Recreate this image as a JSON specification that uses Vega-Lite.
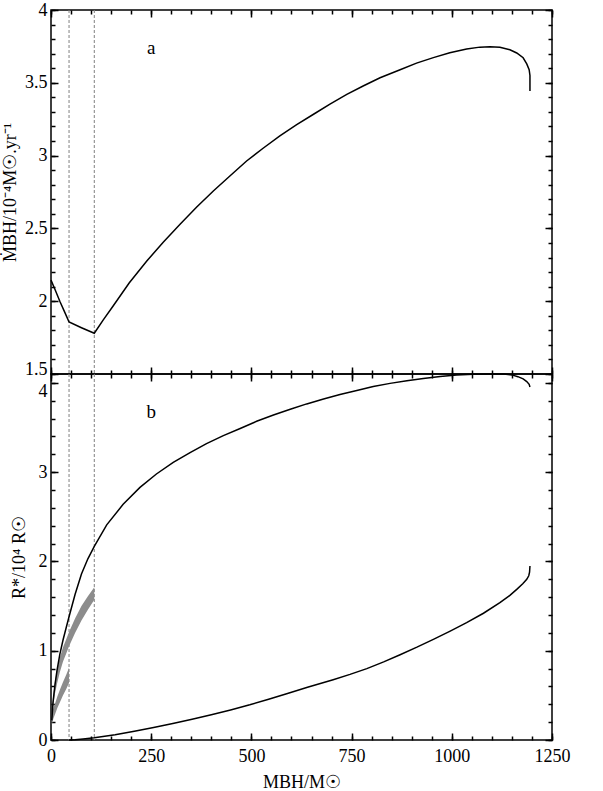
{
  "$schema": "https://vega.github.io/schema/vega-lite/v6.json",
  "padding": {"left": 0, "top": 0, "right": 10, "bottom": 5},
  "spacing": 0,
  "bounds": "flush",
  "config": {
    "font": "Liberation Serif",
    "view": {"stroke": "black", "strokeWidth": 1.5},
    "axis": {
      "labelFont": "Liberation Serif", "titleFont": "Liberation Serif",
      "labelFontSize": 18, "titleFontSize": 18, "titleFontWeight": "normal",
      "domain": false, "tickColor": "black", "tickWidth": 1.5,
      "labelColor": "black", "titleColor": "black", "grid": false,
      "labelFlush": false, "labelOverlap": false, "labelBound": false
    }
  },
  "datasets": {
    "vlines": [{"M": 45}, {"M": 108}],
    "mdot": [
      {"M":0,"v":2.145},{"M":10,"v":2.08},{"M":22,"v":2.0},{"M":35,"v":1.92},{"M":45,"v":1.857},{"M":76,"v":1.818},{"M":108,"v":1.78},{"M":130,"v":1.87},{"M":155,"v":1.967},{"M":195,"v":2.125},{"M":239,"v":2.276},{"M":280,"v":2.405},{"M":322,"v":2.528},{"M":363,"v":2.645},{"M":405,"v":2.757},{"M":447,"v":2.862},{"M":488,"v":2.963},{"M":530,"v":3.052},{"M":571,"v":3.135},{"M":613,"v":3.212},{"M":655,"v":3.284},{"M":696,"v":3.354},{"M":738,"v":3.421},{"M":780,"v":3.48},{"M":821,"v":3.535},{"M":871,"v":3.59},{"M":912,"v":3.635},{"M":954,"v":3.673},{"M":995,"v":3.706},{"M":1037,"v":3.732},{"M":1070,"v":3.745},{"M":1095,"v":3.748},{"M":1120,"v":3.744},{"M":1145,"v":3.727},{"M":1162,"v":3.705},{"M":1178,"v":3.672},{"M":1187,"v":3.63},{"M":1193,"v":3.59},{"M":1195,"v":3.55},{"M":1195,"v":3.444}
    ],
    "rUpper": [
      {"M":2,"v":0.22},{"M":5,"v":0.42},{"M":10,"v":0.62},{"M":15,"v":0.78},{"M":22,"v":0.96},{"M":30,"v":1.12},{"M":38,"v":1.26},{"M":45,"v":1.38},{"M":60,"v":1.63},{"M":76,"v":1.86},{"M":92,"v":2.03},{"M":108,"v":2.17},{"M":139,"v":2.41},{"M":180,"v":2.64},{"M":222,"v":2.83},{"M":263,"v":2.98},{"M":305,"v":3.11},{"M":347,"v":3.22},{"M":388,"v":3.32},{"M":430,"v":3.41},{"M":472,"v":3.49},{"M":513,"v":3.57},{"M":555,"v":3.64},{"M":597,"v":3.705},{"M":638,"v":3.765},{"M":680,"v":3.82},{"M":721,"v":3.87},{"M":763,"v":3.915},{"M":804,"v":3.96},{"M":846,"v":3.995},{"M":888,"v":4.025},{"M":929,"v":4.05},{"M":971,"v":4.072},{"M":1012,"v":4.088},{"M":1054,"v":4.097},{"M":1096,"v":4.1},{"M":1130,"v":4.1},{"M":1150,"v":4.09},{"M":1165,"v":4.07},{"M":1178,"v":4.045},{"M":1187,"v":4.015},{"M":1193,"v":3.985},{"M":1195,"v":3.955}
    ],
    "rLower": [
      {"M":45,"v":0},{"M":60,"v":0.004},{"M":80,"v":0.012},{"M":108,"v":0.026},{"M":160,"v":0.059},{"M":208,"v":0.098},{"M":256,"v":0.14},{"M":304,"v":0.186},{"M":352,"v":0.233},{"M":400,"v":0.284},{"M":448,"v":0.337},{"M":496,"v":0.394},{"M":543,"v":0.456},{"M":590,"v":0.52},{"M":640,"v":0.59},{"M":704,"v":0.675},{"M":746,"v":0.735},{"M":788,"v":0.8},{"M":830,"v":0.875},{"M":871,"v":0.955},{"M":913,"v":1.04},{"M":954,"v":1.128},{"M":996,"v":1.22},{"M":1037,"v":1.314},{"M":1079,"v":1.42},{"M":1120,"v":1.538},{"M":1145,"v":1.62},{"M":1162,"v":1.687},{"M":1177,"v":1.75},{"M":1187,"v":1.8},{"M":1192,"v":1.84},{"M":1194,"v":1.88},{"M":1195,"v":1.95}
    ],
    "bands": [
      {"band":"A","M":2,"lo":0.2,"hi":0.3},{"band":"A","M":5,"lo":0.36,"hi":0.48},{"band":"A","M":10,"lo":0.52,"hi":0.66},{"band":"A","M":15,"lo":0.63,"hi":0.78},{"band":"A","M":22,"lo":0.76,"hi":0.92},{"band":"A","M":30,"lo":0.88,"hi":1.04},{"band":"A","M":38,"lo":0.97,"hi":1.13},{"band":"A","M":45,"lo":1.05,"hi":1.21},{"band":"A","M":60,"lo":1.2,"hi":1.36},{"band":"A","M":76,"lo":1.34,"hi":1.5},{"band":"A","M":92,"lo":1.46,"hi":1.61},{"band":"A","M":108,"lo":1.57,"hi":1.71},
      {"band":"B","M":2,"lo":0.17,"hi":0.28},{"band":"B","M":6,"lo":0.24,"hi":0.36},{"band":"B","M":11,"lo":0.3,"hi":0.42},{"band":"B","M":16,"lo":0.36,"hi":0.49},{"band":"B","M":22,"lo":0.42,"hi":0.56},{"band":"B","M":30,"lo":0.5,"hi":0.65},{"band":"B","M":38,"lo":0.57,"hi":0.73},{"band":"B","M":45,"lo":0.64,"hi":0.81}
    ],
    "labA": [{"M":250,"v":3.74,"t":"a"}],
    "labB": [{"M":250,"v":3.67,"t":"b"}]
  },
  "vconcat": [
    {
      "width": 501, "height": 364,
      "layer": [
        {
          "data": {"name": "vlines"},
          "mark": {"type": "rule", "color": "#808080", "strokeDash": [3, 2], "strokeWidth": 1},
          "encoding": {"x": {"field": "M", "type": "quantitative", "scale": {"domain": [0, 1250], "nice": false}, "axis": null}}
        },
        {
          "data": {"name": "mdot"},
          "mark": {"type": "line", "color": "black", "strokeWidth": 1.5},
          "encoding": {
            "x": {"field": "M", "type": "quantitative", "scale": {"domain": [0, 1250], "nice": false},
              "axis": {"orient": "top", "offset": -364, "values": [0,250,500,750,1000,1250], "labels": false, "title": null, "tickSize": 7}},
            "y": {"field": "v", "type": "quantitative", "scale": {"domain": [1.5, 4], "nice": false, "zero": false},
              "axis": {"orient": "left", "values": [1.5,2,2.5,3,3.5,4], "ticks": false,
                "labelExpr": "format(datum.value, '~g')",
                "labelBaseline": {"condition": {"test": "datum.value === 1.5", "value": "alphabetic"}, "value": "middle"},
                "labelPadding": 4,
                "title": "ṀBH/10⁻⁴M☉.yr⁻¹", "titleX": -32, "titleY": 182}},
            "order": {"value": null}
          }
        },
        {
          "data": {"name": "mdot"},
          "mark": {"type": "line", "strokeOpacity": 0},
          "encoding": {
            "x": {"field": "M", "type": "quantitative", "scale": {"domain": [0, 1250], "nice": false},
              "axis": {"orient": "top", "offset": -364, "values": [0,50,100,150,200,250,300,350,400,450,500,550,600,650,700,750,800,850,900,950,1000,1050,1100,1150,1200,1250], "labels": false, "title": null, "tickSize": 4}},
            "y": {"field": "v", "type": "quantitative", "scale": {"domain": [1.5, 4], "nice": false, "zero": false},
              "axis": {"orient": "right", "offset": -501, "values": [1.5,2,2.5,3,3.5,4], "labels": false, "title": null, "tickSize": 7}},
            "order": {"value": null}
          }
        },
        {
          "data": {"name": "mdot"},
          "mark": {"type": "line", "strokeOpacity": 0},
          "encoding": {
            "x": {"field": "M", "type": "quantitative", "scale": {"domain": [0, 1250], "nice": false},
              "axis": {"orient": "bottom", "offset": -364, "values": [0,250,500,750,1000,1250], "labels": false, "title": null, "tickSize": 7}},
            "y": {"field": "v", "type": "quantitative", "scale": {"domain": [1.5, 4], "nice": false, "zero": false},
              "axis": {"orient": "right", "offset": -501, "values": [1.5,1.6,1.7,1.8,1.9,2.0,2.1,2.2,2.3,2.4,2.5,2.6,2.7,2.8,2.9,3.0,3.1,3.2,3.3,3.4,3.5,3.6,3.7,3.8,3.9,4.0], "labels": false, "title": null, "tickSize": 4}},
            "order": {"value": null}
          }
        },
        {
          "data": {"name": "labA"},
          "mark": {"type": "text", "fontSize": 19, "font": "Liberation Serif", "color": "black", "baseline": "middle"},
          "encoding": {
            "x": {"field": "M", "type": "quantitative", "scale": {"domain": [0, 1250], "nice": false},
              "axis": {"orient": "bottom", "offset": -364, "values": [0,50,100,150,200,250,300,350,400,450,500,550,600,650,700,750,800,850,900,950,1000,1050,1100,1150,1200,1250], "labels": false, "title": null, "tickSize": 4}},
            "y": {"field": "v", "type": "quantitative", "scale": {"domain": [1.5, 4], "nice": false, "zero": false},
              "axis": {"orient": "left", "offset": -501, "values": [1.5,2,2.5,3,3.5,4], "labels": false, "title": null, "tickSize": 7}},
            "text": {"field": "t"}
          }
        },
        {
          "data": {"name": "labA"},
          "mark": {"type": "text", "fontSize": 19, "opacity": 0},
          "encoding": {
            "x": {"field": "M", "type": "quantitative", "scale": {"domain": [0, 1250], "nice": false}, "axis": null},
            "y": {"field": "v", "type": "quantitative", "scale": {"domain": [1.5, 4], "nice": false, "zero": false},
              "axis": {"orient": "left", "offset": -501, "values": [1.5,1.6,1.7,1.8,1.9,2.0,2.1,2.2,2.3,2.4,2.5,2.6,2.7,2.8,2.9,3.0,3.1,3.2,3.3,3.4,3.5,3.6,3.7,3.8,3.9,4.0], "labels": false, "title": null, "tickSize": 4}},
            "text": {"field": "t"}
          }
        }
      ],
      "resolve": {"axis": {"x": "independent", "y": "independent"}}
    },
    {
      "width": 501, "height": 366,
      "layer": [
        {
          "data": {"name": "vlines"},
          "mark": {"type": "rule", "color": "#808080", "strokeDash": [3, 2], "strokeWidth": 1},
          "encoding": {"x": {"field": "M", "type": "quantitative", "scale": {"domain": [0, 1250], "nice": false}, "axis": null}}
        },
        {
          "data": {"name": "bands"},
          "mark": {"type": "area", "color": "#8c8c8c", "opacity": 1},
          "encoding": {
            "x": {"field": "M", "type": "quantitative", "scale": {"domain": [0, 1250], "nice": false}, "axis": null},
            "y": {"field": "lo", "type": "quantitative", "scale": {"domain": [0, 4.1], "nice": false}, "axis": null},
            "y2": {"field": "hi"},
            "detail": {"field": "band"}
          }
        },
        {
          "data": {"name": "rLower"},
          "mark": {"type": "line", "color": "black", "strokeWidth": 1.5},
          "encoding": {
            "x": {"field": "M", "type": "quantitative", "scale": {"domain": [0, 1250], "nice": false}, "axis": null},
            "y": {"field": "v", "type": "quantitative", "scale": {"domain": [0, 4.1], "nice": false}, "axis": null},
            "order": {"value": null}
          }
        },
        {
          "data": {"name": "rUpper"},
          "mark": {"type": "line", "color": "black", "strokeWidth": 1.5},
          "encoding": {
            "x": {"field": "M", "type": "quantitative", "scale": {"domain": [0, 1250], "nice": false},
              "axis": {"orient": "bottom", "values": [0,250,500,750,1000,1250], "ticks": false,
                "labelExpr": "format(datum.value, 'd')", "labelPadding": 7,
                "title": "MBH/M☉", "titlePadding": 8}},
            "y": {"field": "v", "type": "quantitative", "scale": {"domain": [0, 4.1], "nice": false},
              "axis": {"orient": "left", "values": [0,1,2,3,4], "ticks": false,
                "labelExpr": "format(datum.value, '~g')",
                "labelBaseline": {"condition": {"test": "datum.value === 4", "value": "top"}, "value": "middle"},
                "labelPadding": 4,
                "title": "R*/10⁴ R☉", "titleX": -23, "titleY": 183}},
            "order": {"value": null}
          }
        },
        {
          "data": {"name": "rUpper"},
          "mark": {"type": "line", "strokeOpacity": 0},
          "encoding": {
            "x": {"field": "M", "type": "quantitative", "scale": {"domain": [0, 1250], "nice": false},
              "axis": {"orient": "top", "offset": -366, "values": [0,250,500,750,1000,1250], "labels": false, "title": null, "tickSize": 7}},
            "y": {"field": "v", "type": "quantitative", "scale": {"domain": [0, 4.1], "nice": false},
              "axis": {"orient": "right", "offset": -501, "values": [0,1,2,3,4], "labels": false, "title": null, "tickSize": 7}},
            "order": {"value": null}
          }
        },
        {
          "data": {"name": "rUpper"},
          "mark": {"type": "line", "strokeOpacity": 0},
          "encoding": {
            "x": {"field": "M", "type": "quantitative", "scale": {"domain": [0, 1250], "nice": false},
              "axis": {"orient": "top", "offset": -366, "values": [0,50,100,150,200,250,300,350,400,450,500,550,600,650,700,750,800,850,900,950,1000,1050,1100,1150,1200,1250], "labels": false, "title": null, "tickSize": 4}},
            "y": {"field": "v", "type": "quantitative", "scale": {"domain": [0, 4.1], "nice": false},
              "axis": {"orient": "right", "offset": -501, "values": [0,0.2,0.4,0.6,0.8,1.0,1.2,1.4,1.6,1.8,2.0,2.2,2.4,2.6,2.8,3.0,3.2,3.4,3.6,3.8,4.0], "labels": false, "title": null, "tickSize": 4}},
            "order": {"value": null}
          }
        },
        {
          "data": {"name": "labB"},
          "mark": {"type": "text", "fontSize": 19, "font": "Liberation Serif", "color": "black", "baseline": "middle"},
          "encoding": {
            "x": {"field": "M", "type": "quantitative", "scale": {"domain": [0, 1250], "nice": false},
              "axis": {"orient": "bottom", "offset": -366, "values": [0,250,500,750,1000,1250], "labels": false, "title": null, "tickSize": 7}},
            "y": {"field": "v", "type": "quantitative", "scale": {"domain": [0, 4.1], "nice": false},
              "axis": {"orient": "left", "offset": -501, "values": [0,1,2,3,4], "labels": false, "title": null, "tickSize": 7}},
            "text": {"field": "t"}
          }
        },
        {
          "data": {"name": "labB"},
          "mark": {"type": "text", "fontSize": 19, "opacity": 0},
          "encoding": {
            "x": {"field": "M", "type": "quantitative", "scale": {"domain": [0, 1250], "nice": false},
              "axis": {"orient": "bottom", "offset": -366, "values": [0,50,100,150,200,250,300,350,400,450,500,550,600,650,700,750,800,850,900,950,1000,1050,1100,1150,1200,1250], "labels": false, "title": null, "tickSize": 4}},
            "y": {"field": "v", "type": "quantitative", "scale": {"domain": [0, 4.1], "nice": false},
              "axis": {"orient": "left", "offset": -501, "values": [0,0.2,0.4,0.6,0.8,1.0,1.2,1.4,1.6,1.8,2.0,2.2,2.4,2.6,2.8,3.0,3.2,3.4,3.6,3.8,4.0], "labels": false, "title": null, "tickSize": 4}},
            "text": {"field": "t"}
          }
        }
      ],
      "resolve": {"axis": {"x": "independent", "y": "independent"}}
    }
  ]
}
